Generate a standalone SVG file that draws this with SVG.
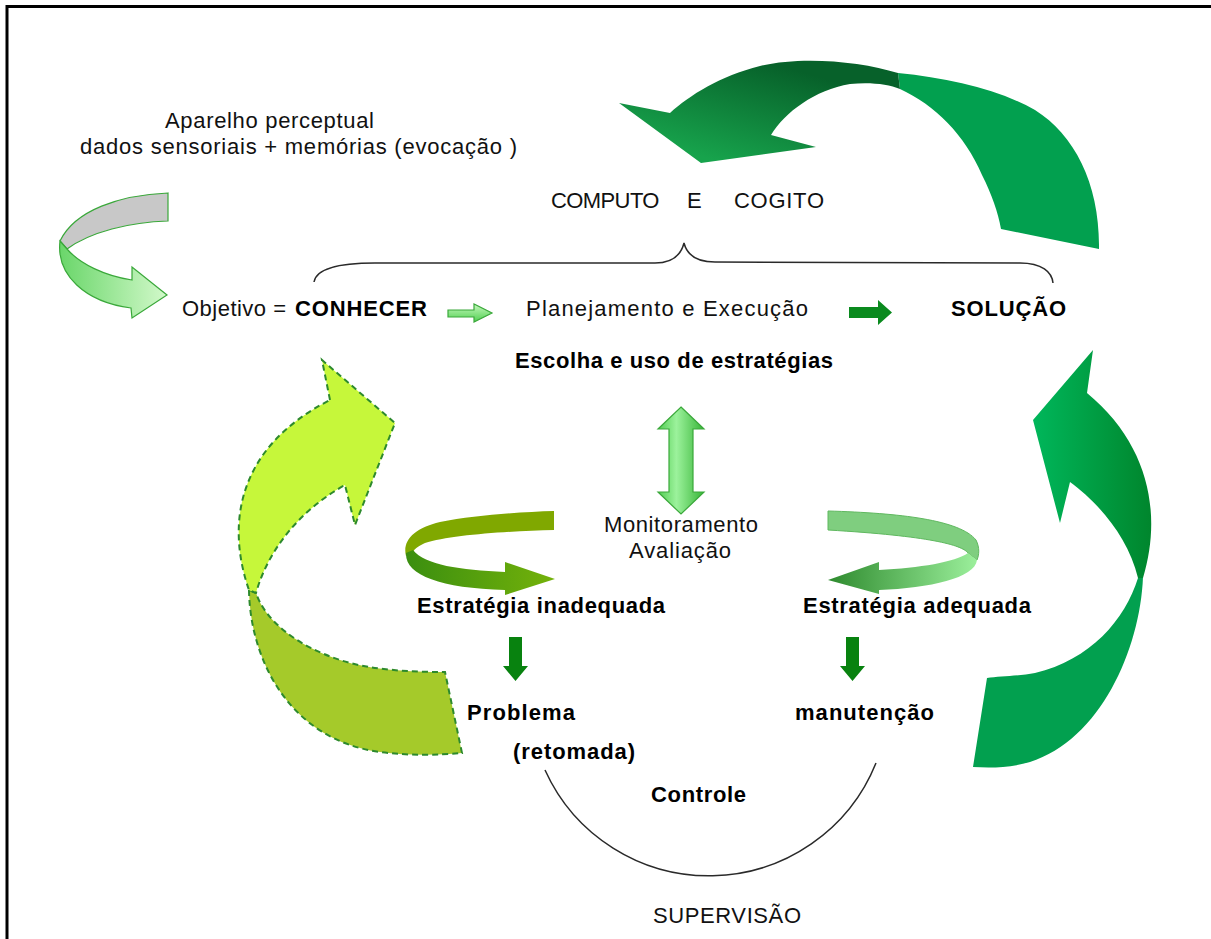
<svg xmlns="http://www.w3.org/2000/svg" width="1211" height="939" viewBox="0 0 1211 939">
  <style>
    .t { font-family: "Liberation Sans", Arial, sans-serif; font-size: 22px; fill: #111; }
    .b { font-weight: bold; fill: #000; }
    .line { fill: none; stroke: #2a2a2a; stroke-width: 1.5; }
    .lime { stroke: #2d8a2d; stroke-width: 2; stroke-dasharray: 6 4; }
    .edge { stroke: #3aa83a; stroke-width: 1.2; }
  </style>
  <defs>
    <linearGradient id="gTopHead" gradientUnits="userSpaceOnUse" x1="760" y1="60" x2="730" y2="165">
      <stop offset="0" stop-color="#07612a"/>
      <stop offset="1" stop-color="#17a34c"/>
    </linearGradient>
    <linearGradient id="gRightHead" gradientUnits="userSpaceOnUse" x1="1035" y1="0" x2="1150" y2="0">
      <stop offset="0" stop-color="#00b65a"/>
      <stop offset="1" stop-color="#00862d"/>
    </linearGradient>
    <linearGradient id="gSmallGreen" gradientUnits="userSpaceOnUse" x1="60" y1="0" x2="167" y2="0">
      <stop offset="0" stop-color="#6ad66a"/>
      <stop offset="1" stop-color="#d2f9ca"/>
    </linearGradient>
    <linearGradient id="gLight" x1="0" y1="0" x2="0" y2="1">
      <stop offset="0" stop-color="#c4f8bc"/>
      <stop offset="1" stop-color="#52d052"/>
    </linearGradient>
    <linearGradient id="gDouble" x1="0" y1="0" x2="1" y2="0">
      <stop offset="0" stop-color="#52cc52"/>
      <stop offset="0.4" stop-color="#9cf29c"/>
      <stop offset="1" stop-color="#38b538"/>
    </linearGradient>
    <linearGradient id="gInadLow" gradientUnits="userSpaceOnUse" x1="405" y1="0" x2="555" y2="0">
      <stop offset="0" stop-color="#3a8e10"/>
      <stop offset="1" stop-color="#74b20a"/>
    </linearGradient>
    <linearGradient id="gAdeqLow" gradientUnits="userSpaceOnUse" x1="828" y1="0" x2="978" y2="0">
      <stop offset="0" stop-color="#2e8a2e"/>
      <stop offset="1" stop-color="#9cf09c"/>
    </linearGradient>
  </defs>

  <rect width="1211" height="939" fill="#fff"/>
  <!-- frame (left and top edges) -->
  <path d="M7,939 V6.5 H1211" fill="none" stroke="#000" stroke-width="3"/>

  <!-- connectors -->
  <g id="connectors">
    <!-- top loop arrow: SOLUÇÃO back to COMPUTO E COGITO -->
    <g id="arrow-top">
      <path d="M1099,249 C1100,185 1075,135 1035,110 C1000,90 950,78 898,73 L900,89 C935,105 965,135 982,175 C992,195 998,212 1001,229 Z" fill="#02a04f"/>
      <path d="M898,73 C860,61 800,56 760,66 C720,76 690,95 670,113 L619,103 L701,163 L816,147 L771,135 C785,112 815,90 850,84 C870,82 888,84 900,89 Z" fill="url(#gTopHead)"/>
    </g>
    <!-- right loop arrow: manutenção up to SOLUÇÃO -->
    <g id="arrow-right">
      <path d="M1143,577 C1140,650 1100,740 1030,762 C1010,768 990,768 973,767 L987,678 C1000,676 1020,676 1035,673 C1090,660 1125,620 1138,578 Z" fill="#02a04f"/>
      <path d="M1087,393 L1093,350 L1033,420 L1060,523 L1070,482 C1095,500 1128,535 1138,578 L1143,578 C1162,515 1150,445 1087,393 Z" fill="url(#gRightHead)"/>
    </g>
    <!-- left loop arrow: Problema back to Objetivo -->
    <g id="arrow-left">
      <path class="lime" d="M249,590 C250,660 290,740 380,752 C410,756 440,755 462,753 L445,672 C410,672 370,670 340,660 C295,645 265,620 256,593 Z" fill="#a5ca2a"/>
      <path class="lime" d="M330,400 L322,360 L395,423 L355,525 L345,485 C300,510 268,550 256,593 L249,590 C228,530 232,450 330,400 Z" fill="#c6f73a"/>
    </g>
    <!-- perceptual input arrow -->
    <g id="arrow-input">
      <path class="edge" d="M168,193 L168,221 C130,222 90,232 67,249 L60,241 C75,210 120,195 168,193 Z" fill="#c8c8c8"/>
      <path class="edge" d="M60,241 C56,275 85,302 131,308 L132,318 L167,295 L132,267 L132,280 C105,276 80,264 67,249 Z" fill="url(#gSmallGreen)"/>
    </g>
    <!-- CONHECER to Planejamento -->
    <path id="arrow-plan" class="edge" d="M448,310 H474 V304 L492,313 L474,322 V317 H448 Z" fill="url(#gLight)"/>
    <!-- Execução to SOLUÇÃO -->
    <path id="arrow-sol" d="M849,307 H878 V300 L892,312.5 L878,325 V318 H849 Z" fill="#0a8a1e"/>
    <!-- strategies <-> monitoring -->
    <path id="arrow-monitor" class="edge" d="M681,407 L704,429 L693,429 L693,492 L704,492 L681,514 L658,492 L669,492 L669,429 L658,429 Z" fill="url(#gDouble)"/>
    <!-- inadequate strategy swirl -->
    <g id="swirl-inadequada">
      <path d="M554,511 L554,530 C510,531 450,535 425,543 C418,546 413,550 413,553 L406,556 C402,540 415,528 440,522 C475,515 520,512 554,511 Z" fill="#80a800"/>
      <path d="M406,553 C405,575 440,588 505,590 L505,595 L555,579 L505,562 L505,572 C460,570 425,565 413,550 Z" fill="url(#gInadLow)"/>
    </g>
    <!-- adequate strategy swirl -->
    <g id="swirl-adequada">
      <path d="M828,511 C900,513 960,520 976,540 C980,548 979,555 977,560 L968,553 C962,545 930,536 828,530 Z" fill="#7fce7f" stroke="#5fb85f" stroke-width="1"/>
      <path d="M977,560 C975,578 930,588 879,590 L879,594 L828,580 L879,562 L879,570 C920,568 955,562 968,553 Z" fill="url(#gAdeqLow)"/>
    </g>
    <!-- down arrows -->
    <path id="arrow-problema" d="M509,637 H522 V666 H528 L515.5,681 L503,666 H509 Z" fill="#08820f"/>
    <path id="arrow-manutencao" d="M846,637 H859 V666 H865 L852.5,681 L840,666 H846 Z" fill="#08820f"/>
    <!-- brace over the process line -->
    <path id="brace" class="line" d="M314,282 C316,270 335,263 375,263 L655,263 C672,263 681,255 684,243 C687,255 696,262 715,262 L1020,263 C1042,263 1052,272 1053,283"/>
    <!-- supervision arc -->
    <path id="arc-supervisao" class="line" d="M545,770 A180,180 0 0 0 876,763"/>
  </g>

  <!-- labels -->
  <g id="node-aparelho">
    <text class="t" x="165" y="128" textLength="209" lengthAdjust="spacing">Aparelho perceptual</text>
    <text class="t" x="80" y="154" textLength="437" lengthAdjust="spacing">dados sensoriais + memórias (evocação )</text>
  </g>
  <g id="node-computo">
    <text class="t" y="208"><tspan x="551" textLength="114">COMPUTO </tspan><tspan x="687">E </tspan><tspan x="734" textLength="90">COGITO</tspan></text>
  </g>
  <g id="node-objetivo">
    <text class="t" x="182" y="316" textLength="104" lengthAdjust="spacing">Objetivo =</text>
    <text class="t b" x="295" y="316" textLength="132" lengthAdjust="spacing">CONHECER</text>
  </g>
  <g id="node-planejamento">
    <text class="t" x="526" y="316" textLength="282" lengthAdjust="spacing">Planejamento e  Execução</text>
  </g>
  <g id="node-solucao">
    <text class="t b" x="951" y="316" textLength="115" lengthAdjust="spacing">SOLUÇÃO</text>
  </g>
  <g id="node-escolha">
    <text class="t b" x="515" y="368" textLength="318" lengthAdjust="spacing">Escolha e uso de estratégias</text>
  </g>
  <g id="node-monitoramento">
    <text class="t" x="604" y="532" textLength="154" lengthAdjust="spacing">Monitoramento</text>
    <text class="t" x="629" y="558" textLength="102" lengthAdjust="spacing">Avaliação</text>
  </g>
  <g id="node-inadequada">
    <text class="t b" x="417" y="613" textLength="248" lengthAdjust="spacing">Estratégia inadequada</text>
  </g>
  <g id="node-adequada">
    <text class="t b" x="803" y="613" textLength="228" lengthAdjust="spacing">Estratégia adequada</text>
  </g>
  <g id="node-problema">
    <text class="t b" x="467" y="720" textLength="108" lengthAdjust="spacing">Problema</text>
    <text class="t b" x="513" y="759" textLength="122" lengthAdjust="spacing">(retomada)</text>
  </g>
  <g id="node-manutencao">
    <text class="t b" x="795" y="720" textLength="139" lengthAdjust="spacing">manutenção</text>
  </g>
  <g id="node-controle">
    <text class="t b" x="651" y="802" textLength="95" lengthAdjust="spacing">Controle</text>
  </g>
  <g id="node-supervisao">
    <text class="t" x="653" y="923" textLength="148" lengthAdjust="spacing">SUPERVISÃO</text>
  </g>
</svg>
